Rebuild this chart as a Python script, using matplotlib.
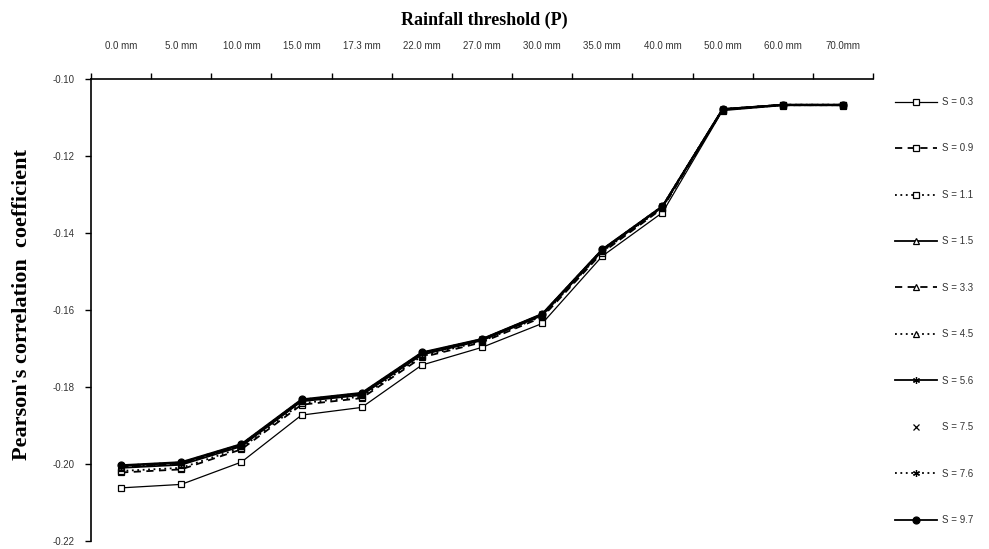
import numpy as np
import matplotlib.pyplot as plt
from matplotlib.ticker import FixedLocator, NullFormatter

# rainfall thresholds (category axis)
thresholds = ["0.0 mm", "5.0 mm", "10.0 mm", "15.0 mm", "17.3 mm", "22.0 mm",
              "27.0 mm", "30.0 mm", "35.0 mm", "40.0 mm", "50.0 mm", "60.0 mm",
              "70.0mm"]

# Pearson's correlation coefficient for each S value
s_03 = [-0.2062, -0.2053, -0.1995, -0.1873, -0.1853, -0.1743, -0.1697,
        -0.1635, -0.1460, -0.1347, -0.1082, -0.1069, -0.1069]
s_09 = [-0.2022, -0.2014, -0.1962, -0.1846, -0.1829, -0.1723, -0.1684,
        -0.1619, -0.1451, -0.1336, -0.1080, -0.1068, -0.1068]
s_11 = [-0.2018, -0.2010, -0.1958, -0.1842, -0.1825, -0.1720, -0.1681,
        -0.1616, -0.1448, -0.1334, -0.1080, -0.1068, -0.1068]
s_15 = [-0.2010, -0.2002, -0.1954, -0.1837, -0.1821, -0.1716, -0.1679,
        -0.1614, -0.1446, -0.1332, -0.1079, -0.1067, -0.1067]
s_33 = [-0.2008, -0.2000, -0.1952, -0.1836, -0.1819, -0.1714, -0.1678,
        -0.1613, -0.1445, -0.1332, -0.1079, -0.1067, -0.1067]
s_45 = [-0.2007, -0.1999, -0.1951, -0.1835, -0.1818, -0.1713, -0.1677,
        -0.1612, -0.1444, -0.1331, -0.1079, -0.1067, -0.1067]
s_56 = [-0.2005, -0.1997, -0.1950, -0.1834, -0.1817, -0.1712, -0.1676,
        -0.1611, -0.1443, -0.1331, -0.1078, -0.1067, -0.1067]
s_75 = [-0.2005, -0.1997, -0.1950, -0.1833, -0.1817, -0.1712, -0.1676,
        -0.1611, -0.1443, -0.1330, -0.1078, -0.1067, -0.1067]
s_76 = [-0.2004, -0.1996, -0.1949, -0.1833, -0.1816, -0.1711, -0.1676,
        -0.1611, -0.1443, -0.1330, -0.1078, -0.1067, -0.1067]
s_97 = [-0.2003, -0.1995, -0.1948, -0.1832, -0.1815, -0.1710, -0.1675,
        -0.1610, -0.1442, -0.1330, -0.1078, -0.1067, -0.1067]

labels = ["S = 0.3", "S = 0.9", "S = 1.1", "S = 1.5", "S = 3.3",
          "S = 4.5", "S = 5.6", "S = 7.5", "S = 7.6", "S = 9.7"]
series = [s_03, s_09, s_11, s_15, s_33, s_45, s_56, s_75, s_76, s_97]

# line style / marker for each curve
styles = [
    dict(ls="-", marker="s", mfc="white", lw=0.9),
    dict(ls=(0, (4, 3)), marker="s", mfc="white", lw=1.3),
    dict(ls=(0, (1, 2)), marker="s", mfc="white", lw=1.3),
    dict(ls="-", marker="^", mfc="white", lw=1.3),
    dict(ls=(0, (4, 3)), marker="^", mfc="white", lw=1.3),
    dict(ls=(0, (1, 2)), marker="^", mfc="white", lw=1.3),
    dict(ls="-", marker=(6, 2, 0), mfc="black", lw=1.3),
    dict(ls="none", marker="x", mfc="black", lw=1.3),
    dict(ls=(0, (1, 2)), marker=(6, 2, 0), mfc="black", lw=1.3),
    dict(ls="-", marker="o", mfc="black", lw=1.3),
]

plt.rcParams['font.family'] = ['Liberation Sans', 'DejaVu Sans']

fig = plt.figure(figsize=(9.89, 5.49), dpi=100)
ax = fig.add_axes([91 / 989, 1 - 541 / 549, (873 - 91) / 989, (541 - 79) / 549])

x = np.arange(len(thresholds))
for vals, lab, st in zip(series, labels, styles):
    ax.plot(x, vals, color="black", ms=5, mec="black", mew=0.9,
            label=lab, **st)

ax.set_xlim(-0.5, len(thresholds) - 0.5)
ax.set_ylim(-0.22, -0.10)
yt = np.arange(-0.22, -0.099, 0.02)
ax.set_yticks(yt)
ax.set_yticklabels([f"{v:.2f}" for v in yt], color="#333333")

# category axis on top: ticks between categories, labels centred
ax.xaxis.tick_top()
ax.xaxis.set_major_locator(FixedLocator(np.arange(-0.5, len(thresholds), 1.0)))
ax.xaxis.set_major_formatter(NullFormatter())
ax.xaxis.set_minor_locator(FixedLocator(x))
ax.set_xticklabels(thresholds, minor=True, color="#333333")
ax.tick_params(axis="x", which="major", length=4, width=1, direction="out")
ax.tick_params(axis="x", which="minor", length=0, pad=20, labelsize=7)
ax.tick_params(axis="y", length=4, width=1, direction="out", labelsize=7, pad=8)

for side in ["right", "bottom"]:
    ax.spines[side].set_visible(False)
for side in ["top", "left"]:
    ax.spines[side].set_linewidth(1.2)

fig.text(484 / 989, 1 - 20 / 549, "Rainfall threshold (P)", ha="center",
         va="center", fontsize=13, fontweight="bold", family="Liberation Serif")
fig.text(22 / 989, 1 - 305 / 549, "Pearson's correlation  coefficient",
         rotation=90, ha="center", va="center", fontsize=16,
         fontweight="bold", family="Liberation Serif")

leg = fig.legend(loc="upper left", bbox_to_anchor=(895 / 989, 1 - 97 / 549),
                 frameon=False, fontsize=7, numpoints=1, handlelength=4.3,
                 handletextpad=0.5, labelspacing=3.75, borderpad=0,
                 borderaxespad=0)
for t in leg.get_texts():
    t.set_color("#333333")

fig.savefig("out.png", dpi=100)
